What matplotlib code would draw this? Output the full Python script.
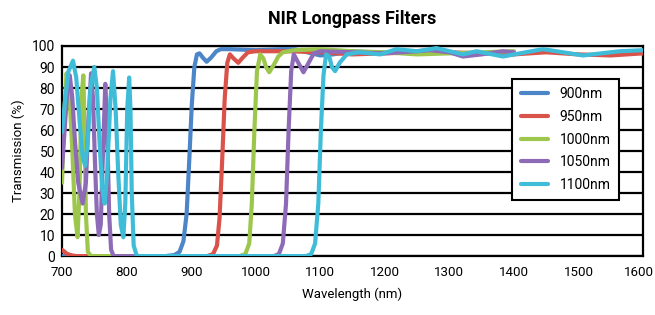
import matplotlib
matplotlib.use("Agg")
import matplotlib.pyplot as plt
from matplotlib.transforms import ScaledTranslation

plt.rcParams['font.family'] = ['Roboto', 'DejaVu Sans']

# 各滤光片的透过率曲线 (波长 nm, 透过率 %)
wl_900 = [700, 860, 874, 882, 888, 893, 897, 901, 905, 909, 913, 918, 924, 931, 939, 946,
          960, 1000, 1040, 1060, 1080, 1100, 1120, 1150, 1180, 1200]
t_900 = [0, 0, 0.5, 2, 7, 20, 45, 72, 90, 96, 96.5, 94.5, 92.5, 94.5, 97.5, 98.5,
         98.5, 98, 98.5, 98.5, 97, 95.5, 96, 97.5, 97, 97]

wl_950 = [700, 708, 716, 722, 925, 934, 940, 944, 948, 952, 956, 960, 966, 973, 980, 988,
          1000, 1050, 1100, 1150, 1200, 1250, 1300, 1350, 1400, 1450, 1500, 1550, 1600]
t_950 = [3, 1, 0.3, 0, 0, 1, 5, 18, 45, 75, 92, 96, 94, 92, 94.5, 97,
         97.5, 97.5, 97, 96, 96.5, 97, 97, 96.5, 96, 97, 96, 95.5, 96.5]

wl_1000 = [700, 703, 707, 711, 716, 720, 724, 727, 730, 733, 735, 737, 740, 745,
           975, 984, 990, 994, 998, 1002, 1007, 1012, 1016, 1021, 1028, 1035, 1042,
           1060, 1100, 1150, 1200, 1250, 1300, 1350, 1400]
t_1000 = [35, 65, 87, 80, 50, 20, 9, 30, 75, 86, 60, 20, 2, 0,
          0, 1, 6, 25, 60, 88, 96, 94, 90, 87.5, 91, 95, 97,
          98, 98.5, 97.5, 97, 96, 96.5, 97, 97.5]

wl_1050 = [700, 704, 708, 712, 716, 720, 725, 732, 737, 741, 745, 748, 751, 754, 757,
           760, 763, 767, 770, 773, 776, 780,
           1028, 1036, 1042, 1047, 1051, 1055, 1059, 1066, 1074, 1082, 1090,
           1100, 1150, 1200, 1250, 1270, 1300, 1321, 1350, 1383, 1400]
t_1050 = [42, 60, 78, 86, 75, 55, 35, 25, 35, 65, 87, 75, 45, 20, 10,
          15, 45, 82, 60, 20, 3, 0,
          0, 1, 6, 25, 60, 88, 96, 92, 87.5, 92, 96.5,
          97.5, 97, 96.5, 97.5, 98, 97, 95, 96, 97.5, 97]

wl_1100 = [700, 705, 710, 717, 722, 727, 732, 736, 740, 744, 750, 754, 758, 762, 766,
           770, 775, 779, 783, 787, 791, 795, 798, 801, 804, 806, 808, 811, 816,
           1078, 1086, 1092, 1097, 1101, 1105, 1109, 1114, 1118, 1123, 1130, 1141,
           1160, 1193, 1218, 1250, 1280, 1321, 1342, 1383, 1445, 1507, 1564, 1600]
t_1100 = [59, 75, 88, 93, 85, 65, 47, 43, 55, 80, 90, 80, 55, 33, 25,
          40, 75, 88, 70, 40, 15, 9, 25, 70, 85, 70, 30, 5, 0,
          0, 1, 6, 25, 60, 86, 96, 95, 90, 88, 92, 96,
          97, 96, 98.5, 97.5, 99, 96, 97.5, 95, 98.5, 95.5, 97.5, 98]

names = ['900nm', '950nm', '1000nm', '1050nm', '1100nm']
colors = ['#4c86c8', '#d9534b', '#9cc74c', '#8d6bb7', '#3fbdd8']
series = [(wl_900, t_900), (wl_950, t_950), (wl_1000, t_1000),
          (wl_1050, t_1050), (wl_1100, t_1100)]

fig = plt.figure(figsize=(6.55, 3.15), dpi=100)
ax = fig.add_axes([0.0947, 0.187, 0.887, 0.667])

for (x, y), name, color in zip(series, names, colors):
    ax.plot(x, y, color=color, lw=3, label=name, solid_joinstyle='round',
            solid_capstyle='round', zorder=3)

ax.set_xlim(700, 1600)
ax.set_ylim(0, 100)
ax.set_xticks(range(700, 1601, 100))
ax.set_yticks(range(0, 101, 10))
ax.tick_params(length=0, labelsize=10, pad=5)
ax.tick_params(axis='x', pad=7, labelsize=9.6)
ax.yaxis.grid(True, color='black', lw=1.6)
ax.set_axisbelow(True)
for sp in ax.spines.values():
    sp.set_linewidth(1.6)

ax.set_xlabel('Wavelength (nm)', fontsize=9.5, labelpad=6)
ax.set_ylabel('Transmission (%)', fontsize=9.5, labelpad=5)
ax.set_title('NIR Longpass Filters', fontsize=13, fontweight='bold', pad=16)

leg = ax.legend(loc='upper left', bbox_to_anchor=(0.775, 0.843), borderaxespad=0,
                fancybox=False, framealpha=1, edgecolor='black', fontsize=10,
                handlelength=2.0, labelspacing=0.62, borderpad=0.6)
leg.get_frame().set_linewidth(1.5)

# 最右边的 1600 稍微往左挪一点，避免被裁掉
fig.canvas.draw()
last = ax.xaxis.get_major_ticks()[-1].label1
last.set_transform(last.get_transform() + ScaledTranslation(-4 / 100, 0, fig.dpi_scale_trans))

fig.savefig('out.png', dpi=100)
